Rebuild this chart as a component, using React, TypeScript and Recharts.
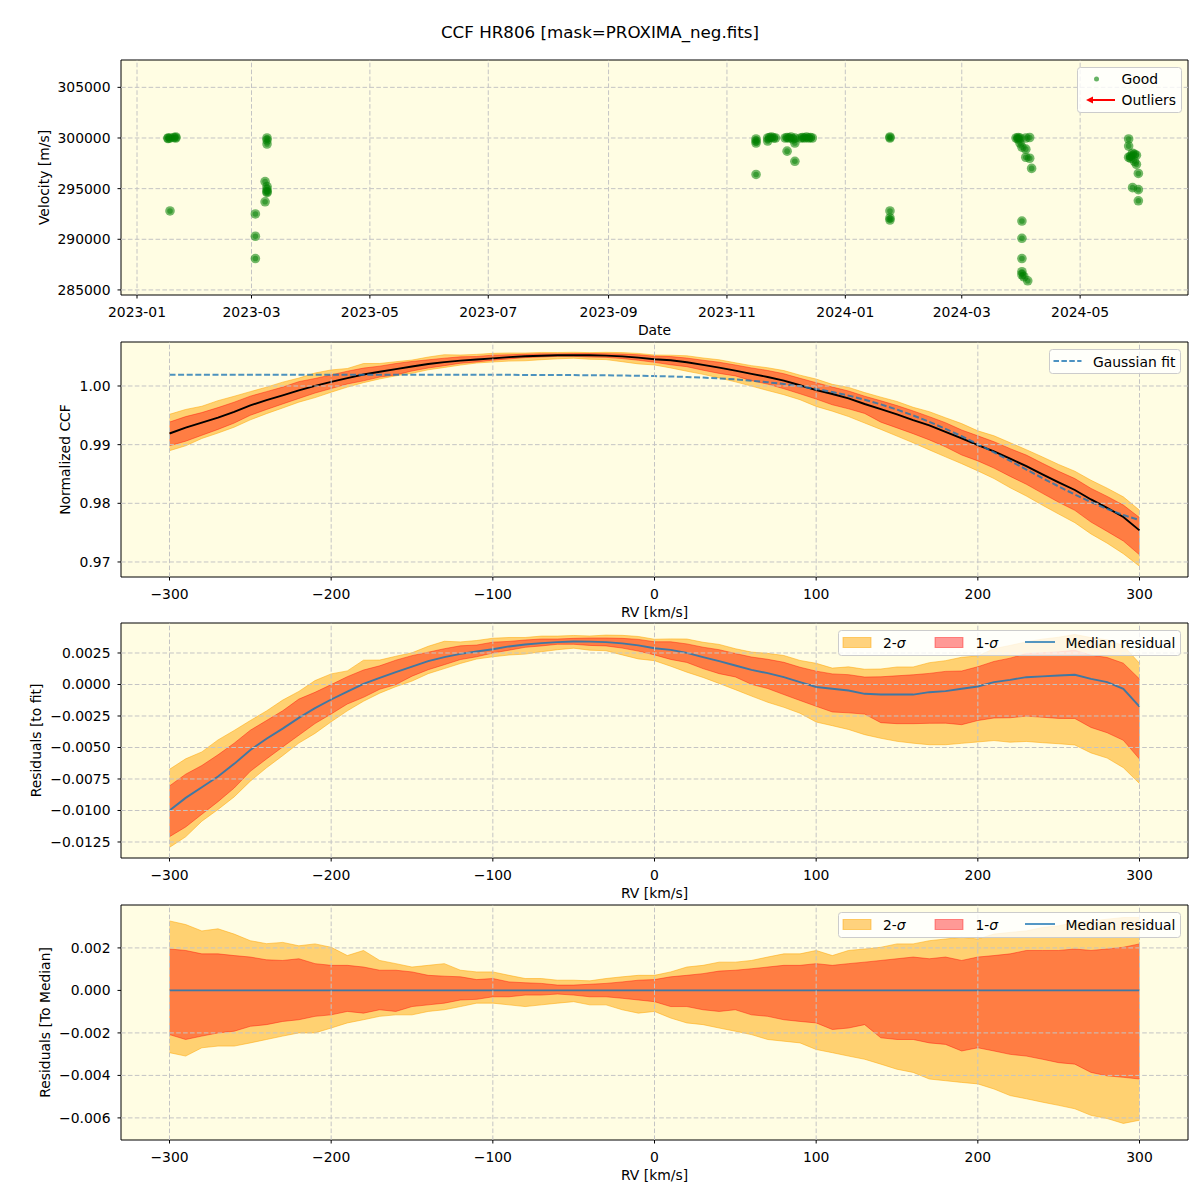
import React from 'react';
import {
    ComposedChart, Scatter, Line, Area, XAxis, YAxis, CartesianGrid,
    ReferenceLine, ReferenceArea, Legend, Label
} from 'recharts';

const FONT = '"DejaVu Sans", Verdana, sans-serif';
const BG = '#FFFDE3';
const C0 = '#1f77b4';
const GRID = '#c4c4c4';
const FS = 13.9;

// ---- panel 1: velocities of the good points ----
const goodDates = [
    '2023-01-17', '2023-01-17', '2023-01-18', '2023-01-18', '2023-01-20', '2023-01-21', '2023-01-21',
    '2023-03-03', '2023-03-03', '2023-03-03',
    '2023-03-08', '2023-03-09', '2023-03-09', '2023-03-09', '2023-03-09', '2023-03-09', '2023-03-09', '2023-03-09', '2023-03-08',
    '2023-11-16', '2023-11-16', '2023-11-16', '2023-11-16',
    '2023-11-22', '2023-11-22', '2023-11-23', '2023-11-24', '2023-11-25', '2023-11-26',
    '2023-12-01', '2023-12-02', '2023-12-02', '2023-12-03', '2023-12-04', '2023-12-05', '2023-12-06', '2023-12-06', '2023-12-06',
    '2023-12-09', '2023-12-10', '2023-12-11', '2023-12-12', '2023-12-13', '2023-12-14', '2023-12-15',
    '2024-01-24', '2024-01-24', '2024-01-24', '2024-01-24', '2024-01-24',
    '2024-03-29', '2024-03-30', '2024-03-30', '2024-03-31', '2024-03-31', '2024-04-01', '2024-04-01', '2024-04-01',
    '2024-04-01', '2024-04-01', '2024-04-01', '2024-04-02', '2024-04-03', '2024-04-03', '2024-04-04', '2024-04-03',
    '2024-04-05', '2024-04-05', '2024-04-06',
    '2024-05-26', '2024-05-26', '2024-05-26', '2024-05-27', '2024-05-27', '2024-05-28', '2024-05-28', '2024-05-29',
    '2024-05-29', '2024-05-30', '2024-05-30', '2024-05-31', '2024-05-31', '2024-05-31',
];
const goodVelocities = [
    300000, 299950, 300000, 292800, 300050, 300100, 300000,
    292500, 290300, 288100,
    295700, 300000, 299800, 299400, 295200, 294900, 294700, 294600, 293700,
    299900, 299700, 299500, 296400,
    299700, 300000, 300050, 300100, 300000, 300000,
    300000, 300050, 298700, 300000, 300100, 299900, 299500, 297700, 300000,
    300000, 300050, 300000, 300100, 300000, 300050, 300000,
    300000, 300100, 292800, 292100, 291900,
    300000, 300050, 299900, 299500, 300000, 299100, 291800, 290100,
    288100, 286800, 286500, 286300, 300000, 298900, 285900, 298100,
    298000, 300050, 297000,
    299900, 299200, 298100, 298200, 298000, 298500, 295100, 298400,
    297700, 298300, 297400, 296500, 294900, 293800,
];
const dateTicks = ['2023-01-01', '2023-03-01', '2023-05-01', '2023-07-01', '2023-09-01', '2023-11-01', '2024-01-01', '2024-03-01', '2024-05-01'];
const velocityTicks = [285000, 290000, 295000, 300000, 305000];

// ---- panels 2-4: CCF, fit, residuals and spreads ----
const rvGrid = [
    -300, -290, -280, -270, -260, -250, -240, -230, -220, -210, -200, -190, -180, -170, -160, -150, -140, -130, -120, -110,
    -100, -90, -80, -70, -60, -50, -40, -30, -20, -10, 0, 10, 20, 30, 40, 50, 60, 70, 80, 90,
    100, 110, 120, 130, 140, 150, 160, 170, 180, 190, 200, 210, 220, 230, 240, 250, 260, 270, 280, 290, 300,
];
const gaussFit = [
    1.0019, 1.0019, 1.0019, 1.0019, 1.0019, 1.0019, 1.0019, 1.0019, 1.0019, 1.0019, 1.0019, 1.0019, 1.0019, 1.0019, 1.0019, 1.0019, 1.0019, 1.0019, 1.0019, 1.0019,
    1.0019, 1.0019, 1.00189, 1.00188, 1.00187, 1.00186, 1.00184, 1.00182, 1.00179, 1.00174, 1.00169, 1.00163, 1.00154, 1.00143, 1.00129, 1.00112, 1.0009, 1.00064, 1.00033, 0.99994,
    0.9995, 0.99898, 0.99836, 0.99767, 0.99687, 0.99597, 0.99498, 0.99389, 0.9927, 0.99143, 0.99009, 0.98867, 0.98723, 0.98576, 0.9843, 0.98287, 0.9815, 0.98021, 0.97904, 0.97801, 0.97714,
];
const medianResid = [
    -0.0100, -0.0090, -0.00815, -0.0073, -0.0063, -0.0052, -0.0043, -0.0035, -0.00265, -0.00188, -0.00119, -0.00056, 0.00005, 0.00053, 0.00098, 0.00142, 0.00185, 0.00217, 0.00243, 0.00262,
    0.0028, 0.00302, 0.00317, 0.00328, 0.00336, 0.00341, 0.0034, 0.00336, 0.00326, 0.0031, 0.00288, 0.00275, 0.00251, 0.00217, 0.00185, 0.00151, 0.00116, 0.0009, 0.00058, 0.00019,
    -0.0002, -0.00034, -0.00048, -0.00074, -0.0008, -0.0008, -0.0008, -0.00061, -0.00053, -0.00034, -0.00016, 0.00019, 0.00037, 0.00058, 0.00064, 0.00071, 0.00077, 0.00045, 0.00019, -0.00034, -0.00175,
];
// spread of the individual CCFs around the median (2-sigma and 1-sigma envelopes)
const hi2 = [
    0.00327, 0.0031, 0.0028, 0.0029, 0.00265, 0.00234, 0.0022, 0.00226, 0.0021, 0.00219, 0.00203, 0.00164, 0.00188, 0.00141, 0.00126, 0.0011, 0.00118, 0.00126, 0.00095, 0.00087,
    0.00087, 0.00071, 0.00056, 0.00056, 0.00048, 0.00048, 0.00045, 0.00056, 0.00064, 0.00071, 0.00071, 0.00087, 0.0011, 0.00118, 0.00133, 0.00133, 0.00141, 0.00157, 0.00172, 0.00172,
    0.00188, 0.00164, 0.00188, 0.00195, 0.00203, 0.00219, 0.00219, 0.00234, 0.00242, 0.0025, 0.00242, 0.00265, 0.00273, 0.0028, 0.00296, 0.00304, 0.0032, 0.00327, 0.00335, 0.00343, 0.00343,
];
const hi1 = [
    0.00195, 0.00188, 0.00172, 0.00172, 0.00164, 0.00157, 0.00144, 0.00141, 0.00149, 0.00126, 0.00118, 0.00118, 0.0011, 0.00095, 0.00095, 0.00087, 0.00071, 0.00067, 0.00064, 0.00051,
    0.00056, 0.0004, 0.00036, 0.00033, 0.00025, 0.00025, 0.00029, 0.00033, 0.0004, 0.00048, 0.00051, 0.00064, 0.00071, 0.00079, 0.00091, 0.00095, 0.00102, 0.0011, 0.00118, 0.00118,
    0.00126, 0.00118, 0.00126, 0.00133, 0.00141, 0.00149, 0.00157, 0.00149, 0.00157, 0.00141, 0.00157, 0.00164, 0.00172, 0.00188, 0.00188, 0.00188, 0.00195, 0.00188, 0.00195, 0.00203, 0.00219,
];
const lo1 = [
    -0.00208, -0.00231, -0.00215, -0.002, -0.00192, -0.00169, -0.00161, -0.00146, -0.00138, -0.00122, -0.00115, -0.00099, -0.00107, -0.00091, -0.00099, -0.00076, -0.00068, -0.0006, -0.00045, -0.00042,
    -0.0003, -0.0003, -0.00022, -0.00022, -0.00017, -0.00022, -0.0003, -0.0003, -0.00037, -0.00045, -0.00053, -0.00076, -0.00076, -0.00091, -0.00099, -0.00091, -0.00115, -0.00122, -0.00138, -0.00146,
    -0.00153, -0.00184, -0.00177, -0.00161, -0.00223, -0.00231, -0.00231, -0.00247, -0.00254, -0.00285, -0.0027, -0.00285, -0.00301, -0.00309, -0.00324, -0.0034, -0.00347, -0.00386, -0.00402, -0.00409, -0.00417,
];
const lo2 = [
    -0.00293, -0.00309, -0.0027, -0.00262, -0.00262, -0.00247, -0.00231, -0.00215, -0.002, -0.002, -0.00177, -0.00153, -0.00138, -0.00122, -0.00115, -0.00115, -0.00099, -0.00091, -0.00076, -0.0006,
    -0.0006, -0.00068, -0.00076, -0.00068, -0.0006, -0.00053, -0.00068, -0.00068, -0.00091, -0.00107, -0.00099, -0.0013, -0.00153, -0.00161, -0.00177, -0.00192, -0.00208, -0.00231, -0.00239, -0.00247,
    -0.00278, -0.00293, -0.00309, -0.00324, -0.00347, -0.00371, -0.00386, -0.00417, -0.00425, -0.00433, -0.0044, -0.00464, -0.00495, -0.0051, -0.00526, -0.00541, -0.00557, -0.00588, -0.00603, -0.00626, -0.00611,
];
const rvTicks = [-300, -200, -100, 0, 100, 200, 300];
const ccfTicks = [0.97, 0.98, 0.99, 1.0];
const fitResidTicks = [-0.0125, -0.01, -0.0075, -0.005, -0.0025, 0, 0.0025];
const medResidTicks = [-0.006, -0.004, -0.002, 0, 0.002];

const goodPoints = goodDates.map((d, i) => ({ t: Date.parse(d), v: goodVelocities[i] }));
const rows = rvGrid.map((rv, i) => {
    const ccf = gaussFit[i] + medianResid[i];
    const r = medianResid[i];
    return {
        rv, ccf, fit: gaussFit[i], resid: r, zero: 0,
        ccf2: [ccf + lo2[i], ccf + hi2[i]], ccf1: [ccf + lo1[i], ccf + hi1[i]],
        res2: [r + lo2[i], r + hi2[i]], res1: [r + lo1[i], r + hi1[i]],
        med2: [lo2[i], hi2[i]], med1: [lo1[i], hi1[i]],
    };
});

const DATE_DOMAIN = [Date.UTC(2022, 11, 23, 18), Date.UTC(2024, 5, 25, 14)];
const RV_DOMAIN = [-330, 330];
const PLOT_H = 235;
const CHART_H = PLOT_H + 60;
const W = 1200;
const MARGIN = { top: 10, right: 12, bottom: 0, left: 0 };

const minus = (s: string) => s.replace('-', '\u2212');
const monthLabel = (t: number) => new Date(t).toISOString().slice(0, 7);
const tickStyle = { fill: '#000', fontSize: FS, fontFamily: FONT };

const gridLines = (xs: number[], ys: number[]) => [
    ...xs.map((x) => <ReferenceLine key={`gx${x}`} x={x} stroke={GRID} strokeDasharray="4.6 2.3" strokeWidth={1} />),
    ...ys.map((y) => <ReferenceLine key={`gy${y}`} y={y} stroke={GRID} strokeDasharray="4.6 2.3" strokeWidth={1} />),
];

const frame = (xd: number[], yd: number[]) => (
    <ReferenceArea x1={xd[0]} x2={xd[1]} y1={yd[0]} y2={yd[1]} fill="none" stroke="#000" strokeWidth={1} ifOverflow="visible" />
);

const xLabel = (text: string) => (
    <Label content={() => (
        <text x={121 + 1067 / 2} y={MARGIN.top + PLOT_H + 40} textAnchor="middle" fontSize={FS} fontFamily={FONT} fill="#000">{text}</text>
    )} />
);

const yLabel = (text: string, x: number) => {
    const y = MARGIN.top + PLOT_H / 2;
    return (
        <Label content={() => (
            <text x={x} y={y} transform={`rotate(-90 ${x} ${y})`} textAnchor="middle" dominantBaseline="central" fontSize={FS} fontFamily={FONT} fill="#000">{text}</text>
        )} />
    );
};

const legendBox = (w: number, h: number, children: React.ReactNode) => (
    <svg width={w} height={h} style={{ display: 'block', overflow: 'visible' }}>
        <rect x={0.5} y={0.5} width={w - 1} height={h - 1} rx={3} fill="#ffffff" fillOpacity={0.8} stroke="#cccccc" />
        {children}
    </svg>
);

const legendText = { fontSize: FS, fontFamily: FONT, fill: '#000', dominantBaseline: 'central' as const };

const GoodLegend = () => legendBox(105, 46, (
    <>
        <circle cx={19.5} cy={12} r={2.5} fill="#008000" fillOpacity={0.6} />
        <text x={44.5} y={12} {...legendText}>Good</text>
        <line x1={38} y1={33} x2={14} y2={33} stroke="red" strokeWidth={2} />
        <polygon points="9,33 16,29.5 16,36.5" fill="red" />
        <text x={44.5} y={33} {...legendText}>Outliers</text>
    </>
));

const FitLegend = () => legendBox(132, 25, (
    <>
        <line x1={4.5} y1={12} x2={32.5} y2={12} stroke={C0} strokeOpacity={0.8} strokeWidth={1.8} strokeDasharray="5.5 2.4" />
        <text x={44} y={12.5} {...legendText}>Gaussian fit</text>
    </>
));

const SigmaLegend = () => legendBox(343, 26, (
    <>
        <rect x={5} y={7.5} width={28} height={10} fill="#FFA500" fillOpacity={0.5} stroke="#FFA500" strokeOpacity={0.5} />
        <text x={45} y={12.5} {...legendText}>2-<tspan fontStyle="italic">σ</tspan></text>
        <rect x={97} y={7.5} width={28} height={10} fill="red" fillOpacity={0.4} stroke="red" strokeOpacity={0.4} />
        <text x={137.5} y={12.5} {...legendText}>1-<tspan fontStyle="italic">σ</tspan></text>
        <line x1={187} y1={12} x2={217} y2={12} stroke={C0} strokeOpacity={0.85} strokeWidth={1.8} />
        <text x={227.5} y={12.5} {...legendText}>Median residual</text>
    </>
));

const legendAt = (left: number, top: number, w: number, h: number, content: () => React.ReactNode) => (
    <Legend layout="vertical" align="center" verticalAlign="middle"
        wrapperStyle={{ left, top, width: w, height: h, margin: 0 }}
        content={content} />
);

const bands = (k2: string, k1: string) => [
    <Area key="b2" type="linear" dataKey={k2} fill="#FFA500" fillOpacity={0.5} stroke="#FFA500" strokeOpacity={0.5} strokeWidth={1} isAnimationActive={false} activeDot={false} />,
    <Area key="b1" type="linear" dataKey={k1} fill="red" fillOpacity={0.4} stroke="red" strokeOpacity={0.4} strokeWidth={1} isAnimationActive={false} activeDot={false} />,
];

const rvAxis = () => (
    <XAxis type="number" dataKey="rv" domain={RV_DOMAIN} ticks={rvTicks} allowDataOverflow
        tickFormatter={(v: number) => minus(String(v))} tick={tickStyle} tickSize={3.5} tickMargin={8.5}
        axisLine={false} tickLine={{ stroke: '#000' }} height={50}>
        {xLabel('RV [km/s]')}
    </XAxis>
);

const valueAxis = (domain: number[], ticks: number[], fmt: (v: number) => string, label: string, lx: number) => (
    <YAxis type="number" domain={domain} ticks={ticks} allowDataOverflow width={121}
        tickFormatter={fmt} tick={tickStyle} tickSize={3.5} tickMargin={7}
        axisLine={false} tickLine={{ stroke: '#000' }}>
        {yLabel(label, lx)}
    </YAxis>
);

const Dot = (p: any) => (
    <g>
        <circle cx={p.cx} cy={p.cy} r={4.8} fill="#008000" fillOpacity={0.55} />
        <circle cx={p.cx} cy={p.cy} r={2.8} fill="#008000" fillOpacity={0.5} />
    </g>
);

const P1_Y = [284500, 307700];
const P2_Y = [0.96744, 1.0075];
const P3_Y = [-0.01377, 0.00488];
const P4_Y = [-0.00704, 0.00402];

export default function App() {
    const tickTimes = dateTicks.map((d) => Date.parse(d));
    const place = (top: number): React.CSSProperties => ({ position: 'absolute', left: 0, top });
    return (
        <div style={{ position: 'absolute', left: 0, top: 0, width: W, height: 1200, background: '#fff', fontFamily: FONT }}>
            <div style={{ position: 'absolute', top: 22, left: 0, width: W, textAlign: 'center', fontSize: 16.7, lineHeight: '20px', color: '#000' }}>
                CCF HR806 [mask=PROXIMA_neg.fits]
            </div>

            {/* velocities over time */}
            <div style={place(50)}>
                <ComposedChart width={W} height={CHART_H} margin={MARGIN}>
                    <CartesianGrid horizontal={false} vertical={false} fill={BG} />
                    <XAxis type="number" dataKey="t" domain={DATE_DOMAIN} ticks={tickTimes} allowDataOverflow
                        tickFormatter={monthLabel} tick={tickStyle} tickSize={3.5} tickMargin={8.5}
                        axisLine={false} tickLine={{ stroke: '#000' }} height={50}>
                        {xLabel('Date')}
                    </XAxis>
                    <YAxis type="number" dataKey="v" domain={P1_Y} ticks={velocityTicks} allowDataOverflow width={121}
                        tick={tickStyle} tickSize={3.5} tickMargin={7} axisLine={false} tickLine={{ stroke: '#000' }}>
                        {yLabel('Velocity [m/s]', 44)}
                    </YAxis>
                    <Scatter data={goodPoints} dataKey="v" shape={Dot} isAnimationActive={false} />
                    {gridLines(tickTimes, velocityTicks)}
                    {frame(DATE_DOMAIN, P1_Y)}
                    {legendAt(1077, 17, 105, 46, () => <GoodLegend />)}
                </ComposedChart>
            </div>

            {/* normalized CCF with Gaussian fit */}
            <div style={place(332)}>
                <ComposedChart width={W} height={CHART_H} margin={MARGIN} data={rows}>
                    <CartesianGrid horizontal={false} vertical={false} fill={BG} />
                    {rvAxis()}
                    {valueAxis(P2_Y, ccfTicks, (v) => v.toFixed(2), 'Normalized CCF', 65)}
                    {bands('ccf2', 'ccf1')}
                    <Line type="linear" dataKey="ccf" stroke="#000" strokeWidth={1.9} dot={false} activeDot={false} isAnimationActive={false} />
                    <Line type="linear" dataKey="fit" stroke={C0} strokeOpacity={0.8} strokeWidth={2} strokeDasharray="6 2.6" dot={false} activeDot={false} isAnimationActive={false} />
                    {gridLines(rvTicks, ccfTicks)}
                    {frame(RV_DOMAIN, P2_Y)}
                    {legendAt(1049, 17, 132, 25, () => <FitLegend />)}
                </ComposedChart>
            </div>

            {/* residuals to the fit */}
            <div style={place(613)}>
                <ComposedChart width={W} height={CHART_H} margin={MARGIN} data={rows}>
                    <CartesianGrid horizontal={false} vertical={false} fill={BG} />
                    {rvAxis()}
                    {valueAxis(P3_Y, fitResidTicks, (v) => minus(v.toFixed(4)), 'Residuals [to fit]', 36)}
                    {bands('res2', 'res1')}
                    <Line type="linear" dataKey="resid" stroke={C0} strokeOpacity={0.85} strokeWidth={1.9} dot={false} activeDot={false} isAnimationActive={false} />
                    {gridLines(rvTicks, fitResidTicks)}
                    {frame(RV_DOMAIN, P3_Y)}
                    {legendAt(838, 17, 343, 26, () => <SigmaLegend />)}
                </ComposedChart>
            </div>

            {/* residuals to the median */}
            <div style={place(895)}>
                <ComposedChart width={W} height={CHART_H} margin={MARGIN} data={rows}>
                    <CartesianGrid horizontal={false} vertical={false} fill={BG} />
                    {rvAxis()}
                    {valueAxis(P4_Y, medResidTicks, (v) => minus(v.toFixed(3)), 'Residuals [To Median]', 45)}
                    {bands('med2', 'med1')}
                    <Line type="linear" dataKey="zero" stroke={C0} strokeOpacity={0.85} strokeWidth={1.9} dot={false} activeDot={false} isAnimationActive={false} />
                    {gridLines(rvTicks, medResidTicks.filter((t) => t !== 0))}
                    {frame(RV_DOMAIN, P4_Y)}
                    {legendAt(838, 17, 343, 26, () => <SigmaLegend />)}
                </ComposedChart>
            </div>
        </div>
    );
}
